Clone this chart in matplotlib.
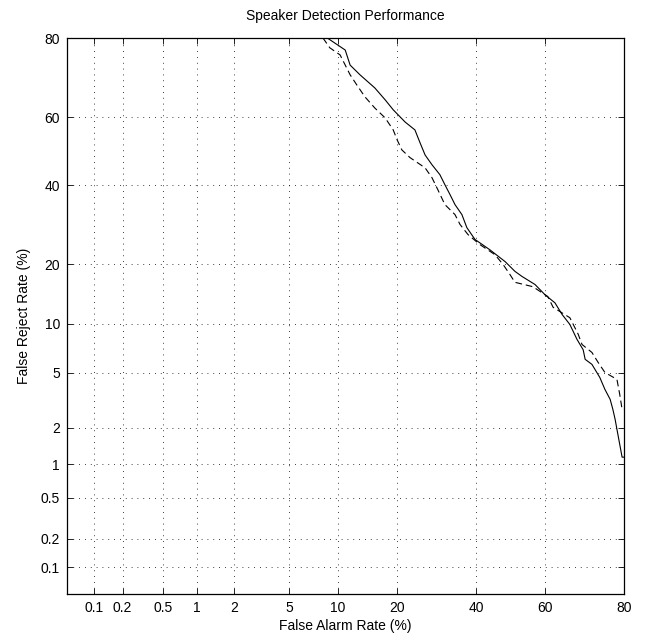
from statistics import NormalDist
import numpy as np
import matplotlib
matplotlib.use("Agg")
from matplotlib import pyplot as plt

plt.rcParams['font.family'] = ['Liberation Sans', 'DejaVu Sans']

# DET curve points (percent)
solid_fa = [8.7, 10.0, 11.0, 11.7, 13.2, 15.7, 17.6, 19.2, 21.7, 23.9, 25.1,
            26.3, 28.0, 30.0, 31.3, 32.7, 34.0, 35.9, 37.3, 39.6, 43.9, 48.4,
            51.3, 53.4, 57.2, 60.1, 62.9, 64.9, 67.0, 68.9, 70.5, 71.0, 72.7,
            74.6, 75.8, 77.0, 77.6, 78.1, 78.5, 79.1, 79.6, 80.0]
solid_fr = [80.0, 78.5, 77.4, 73.9, 71.5, 68.1, 64.9, 62.1, 58.6, 56.3, 52.5,
            48.9, 46.0, 43.1, 40.2, 37.3, 34.6, 31.9, 28.5, 25.6, 23.2, 20.6,
            18.6, 17.6, 16.1, 14.3, 13.0, 11.25, 9.9, 8.1, 7.0, 6.1, 5.66,
            4.64, 3.84, 3.26, 2.76, 2.32, 1.94, 1.47, 1.15, 1.15]

dash_fa = [8.2, 9.0, 10.3, 11.0, 11.7, 12.7, 14.0, 15.7, 17.6, 19.2, 20.0,
           21.0, 22.8, 26.3, 28.0, 29.5, 31.3, 34.0, 35.4, 37.6, 41.0, 45.4,
           47.8, 49.8, 51.3, 56.6, 60.9, 62.4, 67.0, 69.2, 70.2, 72.7, 74.2,
           75.8, 78.5, 79.1, 79.6, 80.0]
dash_fr = [80.0, 77.9, 76.3, 73.9, 71.5, 68.9, 65.7, 62.6, 59.8, 56.3, 53.4,
           50.4, 48.1, 45.1, 42.2, 38.7, 34.6, 31.9, 29.3, 26.8, 24.4, 22.1,
           20.0, 18.0, 16.5, 15.7, 14.0, 12.3, 10.8, 8.7, 7.55, 6.74, 5.83,
           5.01, 4.5, 3.54, 2.76, 2.76]

tick_vals = [0.1, 0.2, 0.5, 1, 2, 5, 10, 20, 40, 60, 80]
tick_labels = ['0.1', '0.2', '0.5', '1', '2', '5', '10', '20', '40', '60', '80']

nd = NormalDist()


def probit(pct):
    """normal deviate of a percentage"""
    return np.array([nd.inv_cdf(p / 100.0) for p in np.atleast_1d(pct)])


fig = plt.figure(figsize=(6.54, 6.42), dpi=100)
ax = fig.add_axes([67/654, 48/642, 557/654, 556/642])

ax.plot(probit(solid_fa), probit(solid_fr), color='k', lw=0.8)
ax.plot(probit(dash_fa), probit(dash_fr), color='k', lw=0.8,
        dashes=(6, 3.5))

lo, hi = probit([0.05, 80])
ax.set_xlim(lo, hi)
ax.set_ylim(lo, hi)

ax.set_xticks(probit(tick_vals))
ax.set_xticklabels(tick_labels)
ax.set_yticks(probit(tick_vals))
ax.set_yticklabels(tick_labels)
ax.tick_params(direction='in', length=4, width=0.6, top=True, right=True,
               labelsize=10, colors='k', pad=5)

ax.grid(True, color='k', lw=0.6, linestyle=(0, (1, 6)))
for s in ax.spines.values():
    s.set_linewidth(0.9)

ax.set_title('Speaker Detection Performance', fontsize=10, pad=13)
ax.set_xlabel('False Alarm Rate (%)', fontsize=10, labelpad=3)
ax.set_ylabel('False Reject Rate (%)', fontsize=10, labelpad=7)

fig.savefig('out.png', dpi=100)
